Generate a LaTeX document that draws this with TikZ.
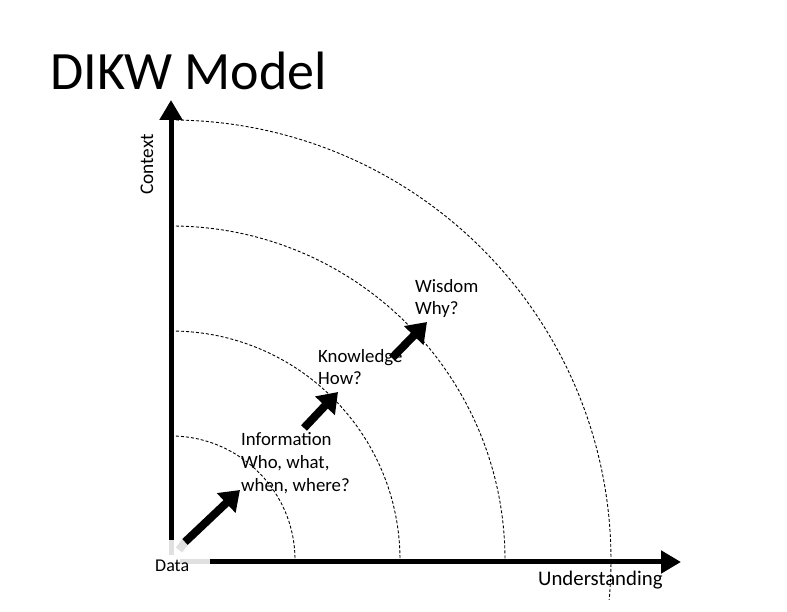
\documentclass[tikz,border=0pt]{standalone}
\usepackage{fontspec}
\setmainfont{Carlito}
\usetikzlibrary{arrows.meta}
\begin{document}
\begin{tikzpicture}[x=1pt,y=1pt,
  axis/.style={line width=5pt,-{Triangle[length=20pt,width=22pt]}},
  ring/.style={line width=0.9pt,dash pattern=on 3pt off 2pt},
  stage/.style={line width=8pt,-{Triangle[length=19pt,width=26pt]}},
  lbl/.style={inner sep=0pt,anchor=base west,font=\fontsize{18.8}{23}\selectfont,align=left},
  faint/.style={line width=5pt,black!12}]
\useasboundingbox (0,0) rectangle (787,612);
% origin and axis ends
\coordinate (O) at (171,52);
\coordinate (yb) at (171,72);
\coordinate (yg) at (171,57);
\coordinate (yt) at (171,512);
\coordinate (xb) at (210,50);
\coordinate (xg) at (180,50);
\coordinate (xt) at (681,50);
% rings
\draw[ring] (171,176) arc[start angle=90,end angle=0,radius=124];
\draw[ring] (171,281) arc[start angle=90,end angle=0,radius=229];
\draw[ring] (171,386) arc[start angle=90,end angle=0,radius=334];
\draw[ring] (171,492) arc[start angle=90,end angle=-5.2,radius=440];
% axes
\draw[faint] (yg) -- (yb);
\draw[faint] (xg) -- (xb);
\draw[axis] (yb) -- (yt);
\draw[axis] (xb) -- (xt);
% title
\node[inner sep=0pt,anchor=base west,font=\fontsize{54}{60}\selectfont] (title) at (50,522) {DIKW Model};
% labels
\node[lbl,font=\fontsize{18}{23}\selectfont] (data) at (155,40) {Data};
\node[lbl,font=\fontsize{20.8}{23}\selectfont] (und) at (538,26) {Understanding};
\node[lbl,rotate=90,font=\fontsize{19.3}{23}\selectfont] (ctx) at (153,417) {Context};
\node[lbl] (info) at (241,166) {Information};
\node[lbl] (info2) at (241,143) {Who, what,};
\node[lbl] (info3) at (241,120) {when, where?};
\node[lbl] (know) at (318,249) {Knowledge};
\node[lbl] (know2) at (318,227) {How?};
\node[lbl] (wis) at (415,319) {Wisdom};
\node[lbl] (wis2) at (415,297) {Why?};
% stage arrows
\coordinate (a0) at (179,62);
\coordinate (a1s) at (185,70);
\coordinate (a1e) at (240,122);
\coordinate (a2s) at (304,184);
\coordinate (a2e) at (338,220);
\coordinate (a3s) at (392,254);
\coordinate (a3e) at (427,290);
\draw[line width=8pt,black!12] (a0) -- (a1s);
\draw[stage] (a1s) -- (a1e);
\draw[stage] (a2s) -- (a2e);
\draw[stage] (a3s) -- (a3e);
\end{tikzpicture}
\end{document}
